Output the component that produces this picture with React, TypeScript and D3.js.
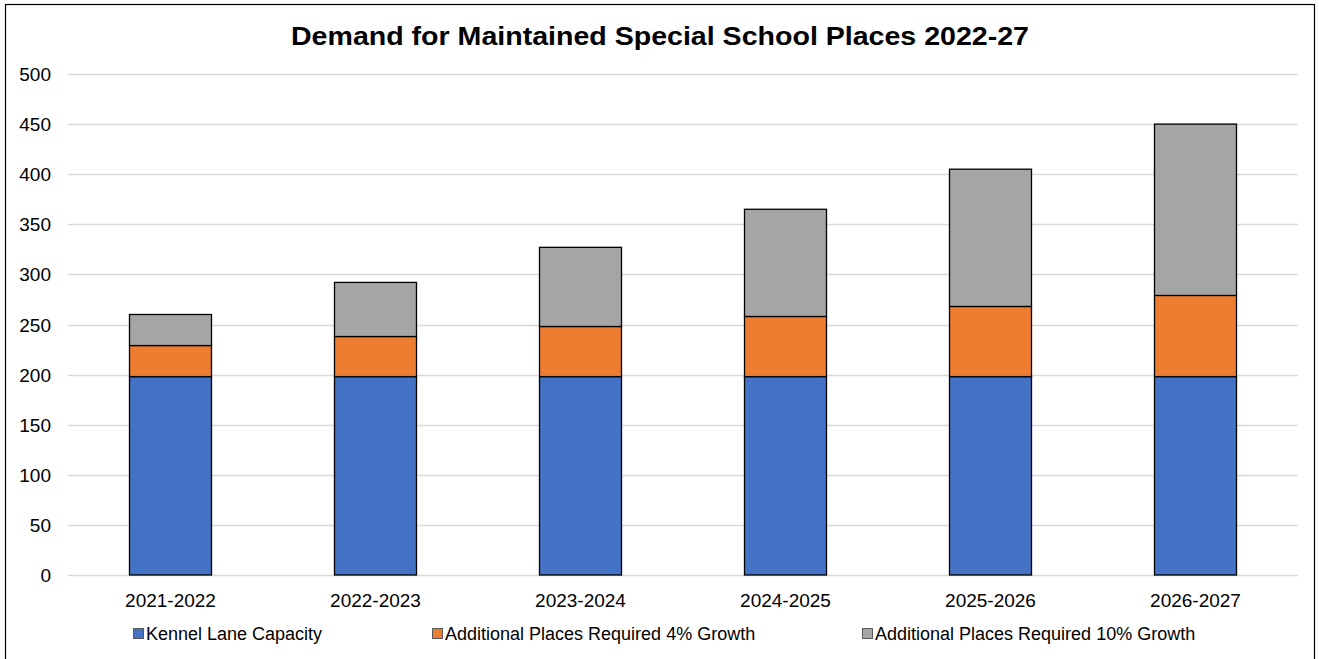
import React from "react";
import * as d3 from "d3";

const categories = ["2021-2022", "2022-2023", "2023-2024", "2024-2025", "2025-2026", "2026-2027"];
const seriesNames = ["Kennel Lane Capacity", "Additional Places Required 4% Growth", "Additional Places Required 10% Growth"];
const capacity = [198, 198, 198, 198, 198, 198];
const growth4 = [31, 40, 50, 60, 70, 81];
const growth10 = [31, 54, 79, 107, 137, 171];
const yTicks = [0, 50, 100, 150, 200, 250, 300, 350, 400, 450, 500];
const colors = ["#4472c4", "#ed7d31", "#a5a5a5"];

const W = 1319;
const H = 659;
const M = { left: 68, right: 1298, top: 74, bottom: 575 };

export default function App() {
  const rows = categories.map((c, i) => ({ cat: c, s0: capacity[i], s1: growth4[i], s2: growth10[i] }));
  const stack = d3.stack<any>().keys(["s0", "s1", "s2"])(rows);
  const x = d3.scaleBand().domain(categories).range([M.left, M.right]).paddingInner(0.6).paddingOuter(0.3);
  const y = d3.scaleLinear().domain([0, 500]).range([M.bottom, M.top]);
  const font = "'Liberation Sans', Arial, sans-serif";
  const legendX = [133, 432, 862];

  return (
    <svg width={W} height={H} style={{ position: "fixed", left: 0, top: 0, background: "#fff" }} fontFamily={font}>
      <rect x={0} y={0} width={W} height={H} fill="#fff" />
      <rect x={5.5} y={4.5} width={1309} height={670} fill="none" stroke="#000" strokeWidth={1.2} />
      <text x={660} y={45} textAnchor="middle" fontSize={26} fontWeight="bold" fill="#000" textLength={738} lengthAdjust="spacingAndGlyphs">
        Demand for Maintained Special School Places 2022-27
      </text>
      {yTicks.map((t) => (
        <g key={t}>
          <line x1={M.left} x2={M.right} y1={Math.round(y(t)) + 0.5} y2={Math.round(y(t)) + 0.5} stroke="#d9d9d9" strokeWidth={1.3} />
          <text x={51} y={y(t) + 7} textAnchor="end" fontSize={19} fill="#000">{t}</text>
        </g>
      ))}
      {stack.map((layer, li) => (
        <g key={li}>
          {layer.map((d, i) => (
            <rect
              key={i}
              x={x(categories[i])!}
              width={x.bandwidth()}
              y={y(d[1])}
              height={y(d[0]) - y(d[1])}
              fill={colors[li]}
              stroke="#000"
              strokeWidth={1.3}
            />
          ))}
        </g>
      ))}
      {categories.map((c) => (
        <text key={c} x={x(c)! + x.bandwidth() / 2} y={607} textAnchor="middle" fontSize={19} fill="#000">{c}</text>
      ))}
      {seriesNames.map((s, i) => (
        <g key={s}>
          <rect x={legendX[i] + 0.5} y={628.5} width={10} height={10} fill={colors[i]} stroke="#595959" strokeWidth={1} />
          <text x={legendX[i] + 13} y={640} fontSize={18} fill="#000">{s}</text>
        </g>
      ))}
    </svg>
  );
}
